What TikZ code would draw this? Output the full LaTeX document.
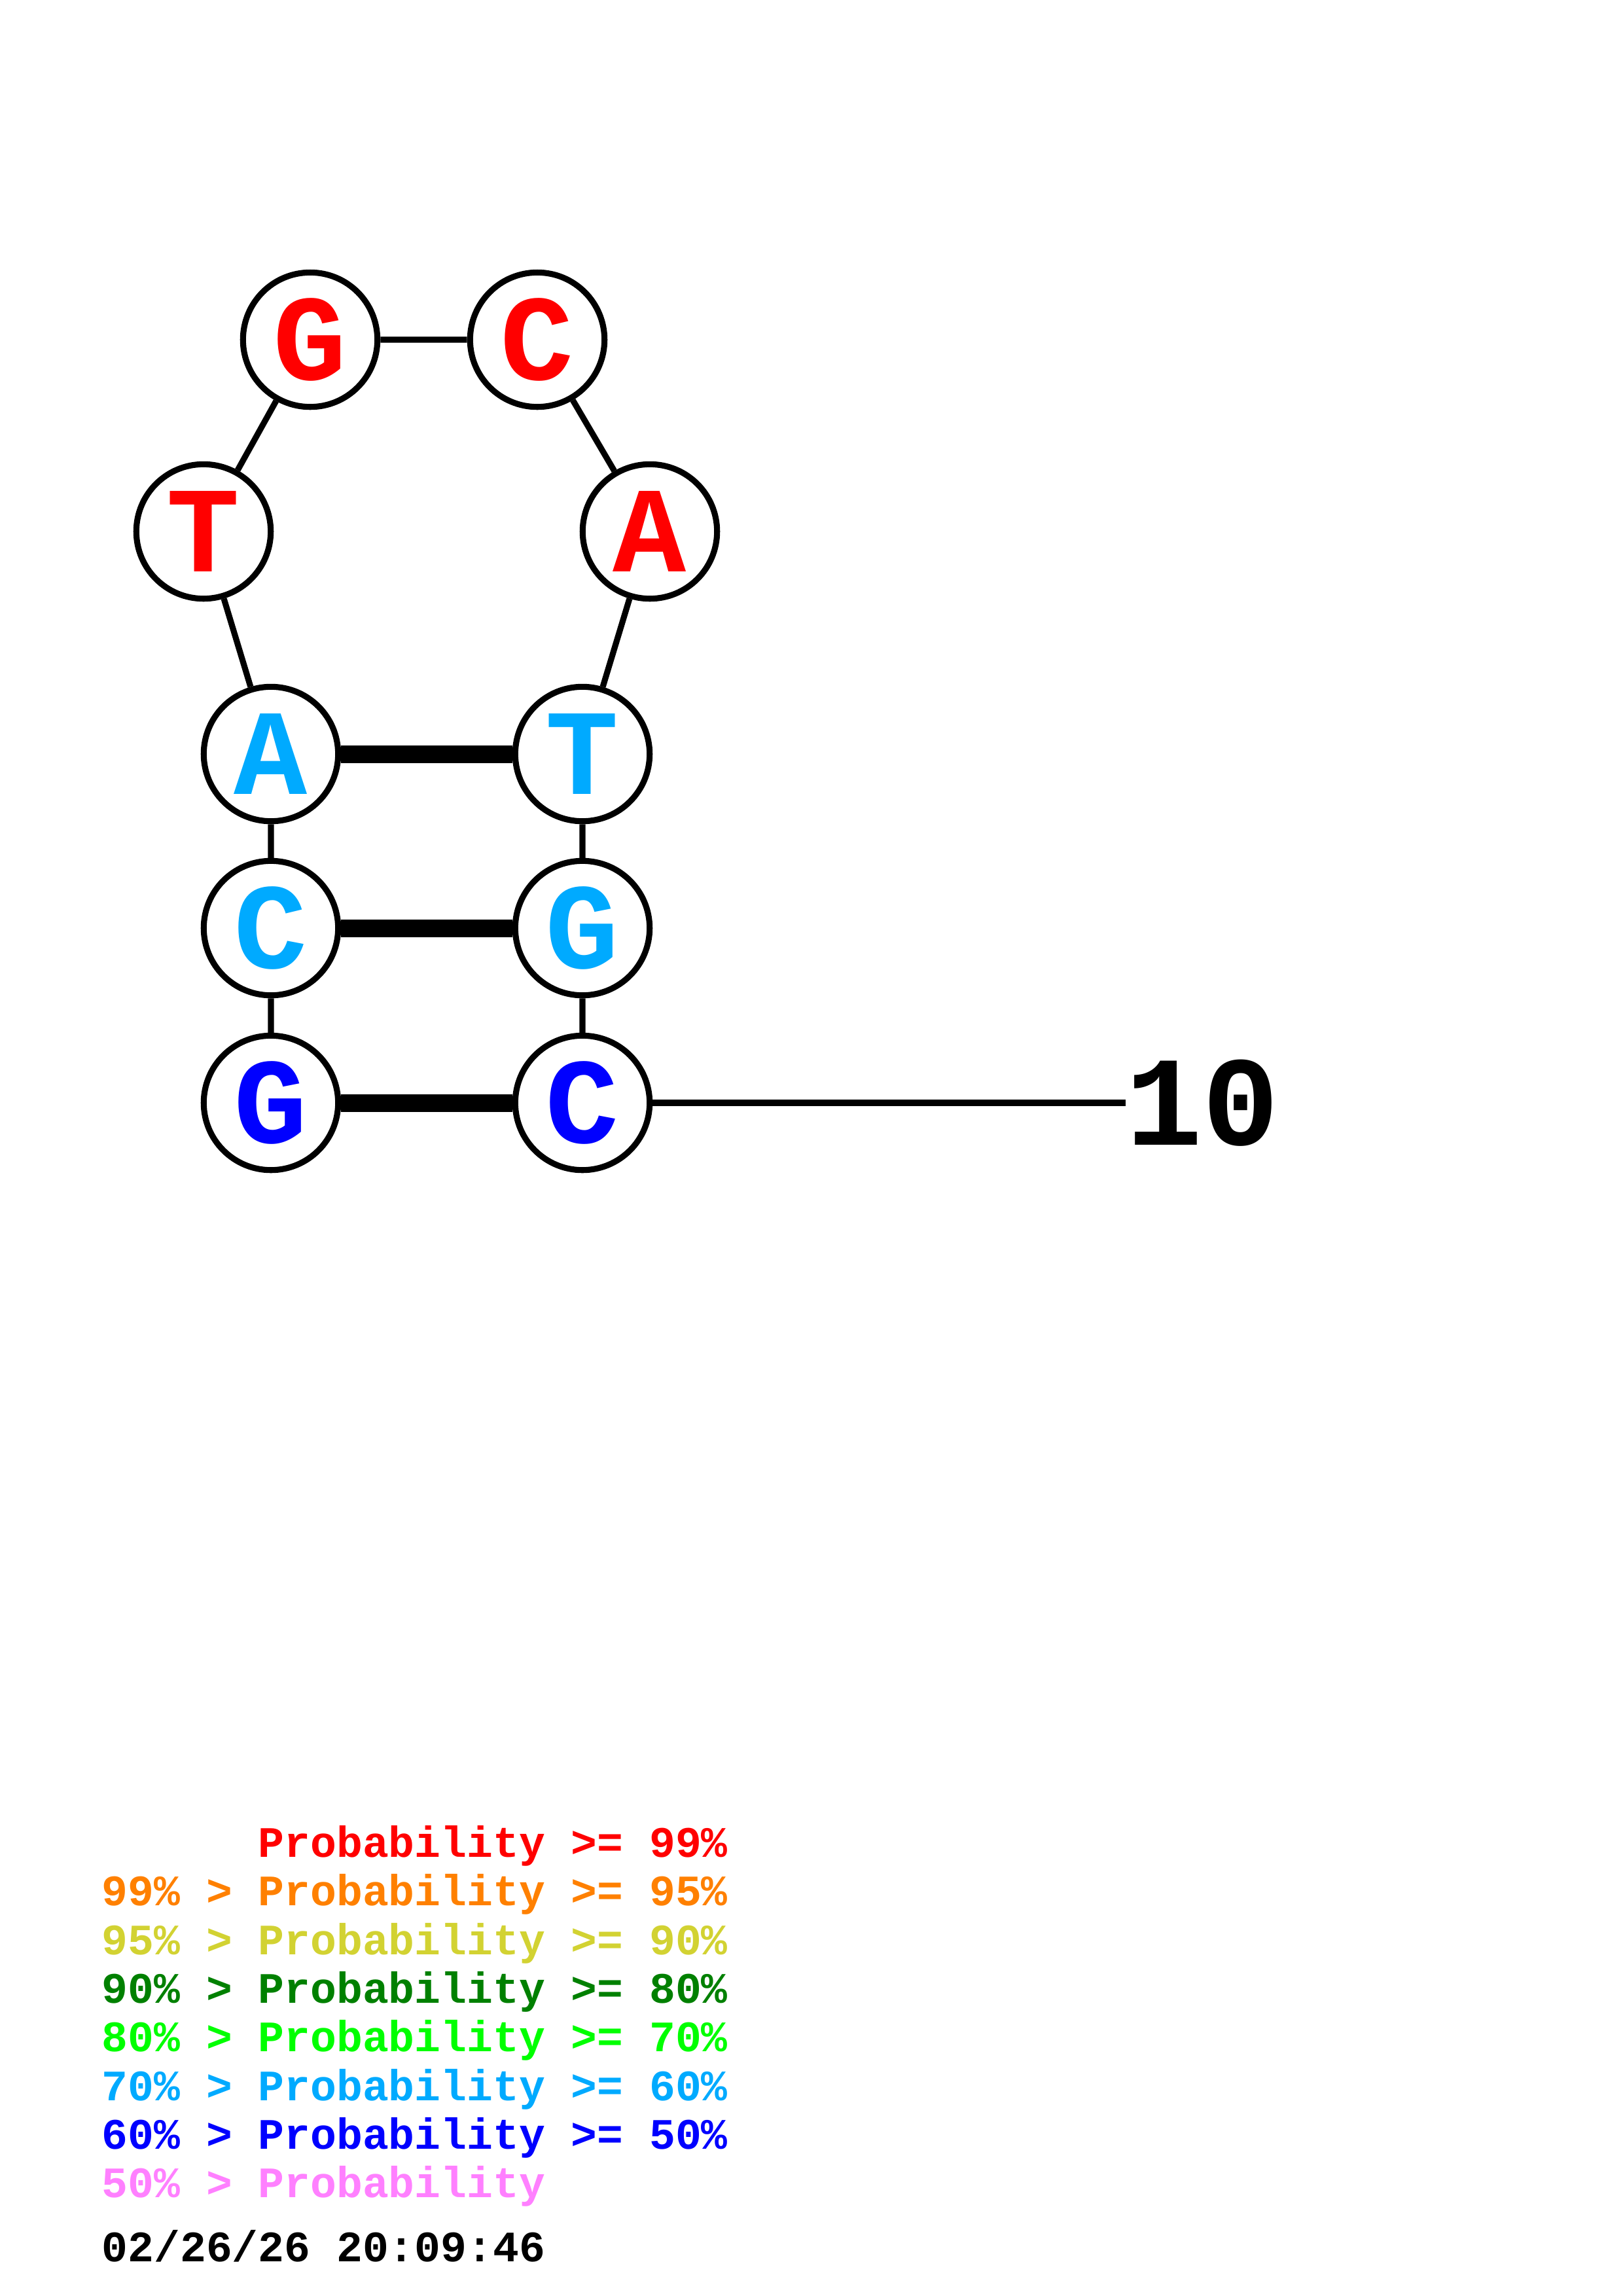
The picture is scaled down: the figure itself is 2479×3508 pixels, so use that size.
\documentclass[tikz,border=0pt]{standalone}
\usepackage{fontspec}
\newfontfamily\courfont{Liberation Mono}
\definecolor{pA}{RGB}{255,0,0}
\definecolor{pB}{RGB}{255,128,0}
\definecolor{pC}{RGB}{210,210,50}
\definecolor{pD}{RGB}{0,128,0}
\definecolor{pE}{RGB}{0,255,0}
\definecolor{pF}{RGB}{0,170,255}
\definecolor{pG}{RGB}{0,0,255}
\definecolor{pH}{RGB}{255,128,255}
\tikzset{
  base/.style={circle,draw,line width=2.2pt,fill=white,minimum size=17.4mm,inner sep=0pt,
    font=\courfont\bfseries\fontsize{45}{45}\selectfont},
  bb/.style={line width=2.2pt},
  pair/.style={line width=6.5pt},
  legend/.style={anchor=base west,inner sep=0pt,font=\courfont\bfseries\fontsize{16}{18}\selectfont}
}
\begin{document}
\begin{tikzpicture}[x=0.08471mm,y=-0.08471mm]
\useasboundingbox (0,0) rectangle (2479,3508);
\node[base,text=pG] (n1) at (414,1685) {G};
\node[base,text=pF] (n2) at (414,1418) {C};
\node[base,text=pF] (n3) at (414,1152) {A};
\node[base,text=pA] (n4) at (311,812) {T};
\node[base,text=pA] (n5) at (474,519) {G};
\node[base,text=pA] (n6) at (821,519) {C};
\node[base,text=pA] (n7) at (993,812) {A};
\node[base,text=pF] (n8) at (890,1152) {T};
\node[base,text=pF] (n9) at (890,1418) {G};
\node[base,text=pG] (n10) at (890,1685) {C};
\node[anchor=west,inner sep=0pt,font=\courfont\bfseries\fontsize{47}{47}\selectfont] (lbl) at (1720,1685) {10};
\draw[bb] (n1) -- (n2) -- (n3) -- (n4) -- (n5) -- (n6) -- (n7) -- (n8) -- (n9) -- (n10);
\draw[bb] (n10) -- (lbl.west);
\draw[pair] (n1) -- (n10);
\draw[pair] (n2) -- (n9);
\draw[pair] (n3) -- (n8);
% legend
\node[legend,text=pA] (l1) at (155,2837) {\hphantom{99\% > }Probability >= 99\%};
\node[legend,text=pB] (l2) at (155,2911) {99\% > Probability >= 95\%};
\node[legend,text=pC] (l3) at (155,2986) {95\% > Probability >= 90\%};
\node[legend,text=pD] (l4) at (155,3060) {90\% > Probability >= 80\%};
\node[legend,text=pE] (l5) at (155,3134) {80\% > Probability >= 70\%};
\node[legend,text=pF] (l6) at (155,3209) {70\% > Probability >= 60\%};
\node[legend,text=pG] (l7) at (155,3283) {60\% > Probability >= 50\%};
\node[legend,text=pH] (l8) at (155,3357) {50\% > Probability};
\node[legend] (date) at (155,3455) {02/26/26 20:09:46};
\end{tikzpicture}
\end{document}
